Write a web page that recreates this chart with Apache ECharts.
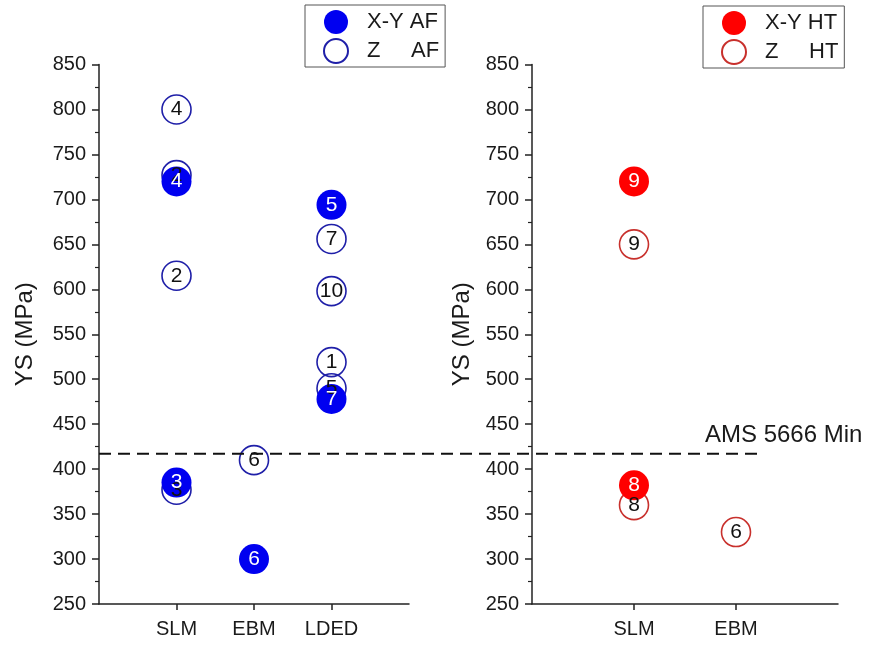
<!DOCTYPE html>
<html>
<head>
<meta charset="utf-8">
<script src="https://cdn.jsdelivr.net/npm/echarts@6/dist/echarts.min.js"></script>
<style>html,body{margin:0;padding:0;background:#fff;}#c{width:869px;height:645px;}</style>
</head>
<body>
<div id="c"></div>
<script>
// ---- data ----
const leftCats = ['SLM', 'EBM', 'LDED'];
const rightCats = ['SLM', 'EBM'];
// [category, YS (MPa), reference number]
const xyAF = [['SLM', 720, '4'], ['SLM', 385, '3'], ['EBM', 300, '6'], ['LDED', 694, '5'], ['LDED', 478, '7']];
const zAF = [['SLM', 800, '4'], ['SLM', 727, '2'], ['SLM', 615, '2'], ['SLM', 377, '3'], ['EBM', 410, '6'],
             ['LDED', 656, '7'], ['LDED', 598, '10'], ['LDED', 519, '1'], ['LDED', 490, '5']];
const xyHT = [['SLM', 720, '9'], ['SLM', 382, '8']];
const zHT = [['SLM', 650, '9'], ['SLM', 360, '8'], ['EBM', 330, '6']];
const amsMin = 417;
const amsLabel = 'AMS 5666 Min';
const yMin = 250, yMax = 850, yStep = 50;
const yName = 'YS (MPa)';

const FONT = '"Liberation Sans", Arial, sans-serif';
const TXT = '#1a1a1a';

function padCats(cats) { return ['\u200b'].concat(cats, ['\u200b\u200b']); }

function xAxisFor(gi, cats) {
  const all = padCats(cats);
  return {
    type: 'category', gridIndex: gi, data: all, boundaryGap: false,
    axisLine: { show: true, lineStyle: { color: '#222', width: 1.5 } },
    axisTick: { show: true, inside: false, length: 6, lineStyle: { color: '#222', width: 1.5 },
      interval: (i) => i > 0 && i < all.length - 1 },
    axisLabel: { show: true, interval: (i) => i > 0 && i < all.length - 1, margin: 15,
      fontSize: 20, color: TXT, fontFamily: FONT },
    splitLine: { show: false }
  };
}
function yAxisFor(gi, gap) {
  return {
    type: 'value', gridIndex: gi, min: yMin, max: yMax, interval: yStep,
    name: yName, nameLocation: 'middle', nameGap: gap, nameRotate: 90, nameMoveOverlap: false,
    nameTextStyle: { fontSize: 24, color: TXT, fontFamily: FONT },
    axisLine: { show: true, lineStyle: { color: '#222', width: 1.5 } },
    axisTick: { show: true, inside: false, length: 7, lineStyle: { color: '#222', width: 1.5 } },
    minorTick: { show: true, splitNumber: 2, length: 4, lineStyle: { color: '#222', width: 1.2 } },
    axisLabel: { fontSize: 20, color: TXT, fontFamily: FONT, margin: 13 },
    splitLine: { show: false }
  };
}
function scatter(name, data, xi, filled, color, border) {
  return {
    type: 'scatter', name: name, xAxisIndex: xi, yAxisIndex: xi,
    data: data, symbol: 'circle', symbolSize: filled ? 30 : 29,
    itemStyle: filled ? { color: color, opacity: 1 } :
      { color: 'rgba(255,255,255,0)', borderColor: border, borderWidth: 1.6, opacity: 1 },
    label: { show: true, position: 'inside', formatter: (p) => p.data[2],
      fontSize: 21, color: filled ? '#fff' : '#111', fontFamily: FONT },
    emphasis: { disabled: true }
  };
}

const chart = echarts.init(document.getElementById('c'), null, { renderer: 'canvas' });
chart.setOption({
  backgroundColor: '#fff',
  animation: false,
  grid: [
    { left: 99, right: 460, top: 64.5, bottom: 41, containLabel: false },
    { left: 532, right: 31, top: 64.5, bottom: 41, containLabel: false },
    { left: 99, right: 111, top: 64.5, bottom: 41, containLabel: false }
  ],
  legend: [
    { data: ['X-Y AF', 'Z     AF'], orient: 'vertical', left: 305, top: 5,
      padding: [5, 6, 3, 18], itemGap: 4, itemWidth: 24, itemHeight: 24,
      borderColor: '#555', borderWidth: 1, selectedMode: false,
      textStyle: { fontSize: 22, color: TXT, fontFamily: FONT, padding: [0, 0, 0, 14] } },
    { data: ['X-Y HT', 'Z     HT'], orient: 'vertical', left: 703, top: 6,
      padding: [5, 6, 3, 18], itemGap: 4, itemWidth: 24, itemHeight: 24,
      borderColor: '#555', borderWidth: 1, selectedMode: false,
      textStyle: { fontSize: 22, color: TXT, fontFamily: FONT, padding: [0, 0, 0, 14] } }
  ],
  xAxis: [
    xAxisFor(0, leftCats),
    xAxisFor(1, rightCats),
    { type: 'value', gridIndex: 2, min: 0, max: 1, show: false }
  ],
  yAxis: [
    yAxisFor(0, 62),
    yAxisFor(1, 58),
    { type: 'value', gridIndex: 2, min: yMin, max: yMax, show: false }
  ],
  series: [
    scatter('Z     AF', zAF, 0, false, null, '#1f1fa8'),
    scatter('X-Y AF', xyAF, 0, true, '#0000f0'),
    scatter('Z     HT', zHT, 1, false, null, '#c8302c'),
    scatter('X-Y HT', xyHT, 1, true, '#ff0000'),
    {
      type: 'line', xAxisIndex: 2, yAxisIndex: 2, symbol: 'none', silent: true,
      data: [[0, amsMin], [1, amsMin]],
      lineStyle: { color: '#111', width: 2, type: [12, 7] },
      label: { show: false },
      endLabel: { show: true, formatter: amsLabel, fontSize: 24, color: TXT, fontFamily: FONT,
        offset: [-61, -18] }
    }
  ]
});
</script>
</body>
</html>
